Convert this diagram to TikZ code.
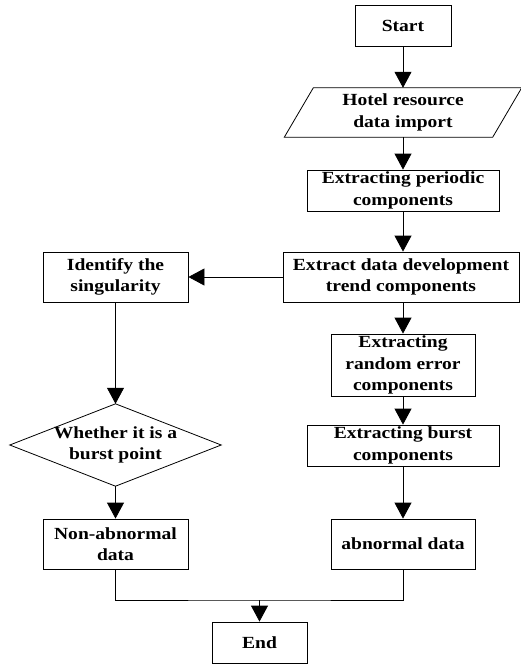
\documentclass[tikz,border=0pt]{standalone}
\usepackage{fontspec}
\setmainfont[FakeStretch=1.15]{Liberation Serif}
\usetikzlibrary{arrows.meta,calc}
\begin{document}
\begin{tikzpicture}[x=1pt,y=-1pt,
  every node/.style={font=\fontsize{17}{21.5}\selectfont\bfseries, align=center, inner sep=0pt},
  box/.style={draw, line width=0.8pt, minimum width=#1},
  arr/.style={line width=0.8pt, -{Triangle[length=16pt,width=17pt]}},
  ln/.style={line width=0.8pt}]
\useasboundingbox (0,0) rectangle (520,664);
\node[box=96, minimum height=41] (start) at (403,26) {Start};
\node[minimum width=208, minimum height=49] (imp) at (403,112.5) {Hotel resource\\data import};
\draw[ln] ($(imp.south west)+(-14.5,0)$) -- ($(imp.south east)+(-14.5,0)$) -- ($(imp.north east)+(14.5,0)$) -- ($(imp.north west)+(14.5,0)$) -- cycle;
\node[box=192, minimum height=41] (per) at (403,190.5) {Extracting periodic\\components};
\node[box=236, minimum height=50] (trend) at (401,277) {Extract data development\\trend components};
\node[box=145, minimum height=50] (ident) at (115.5,277) {Identify the\\singularity};
\node[box=144, minimum height=62] (rand) at (403,365) {Extracting\\random error\\components};
\node[box=192, minimum height=41] (burst) at (403,445.5) {Extracting burst\\components};
\node[minimum width=211, minimum height=82] (dia) at (115.5,445) {Whether it is a\\burst point};
\draw[ln] (dia.north) -- (dia.east) -- (dia.south) -- (dia.west) -- cycle;
\node[box=145, minimum height=50] (nonab) at (115.5,544) {Non-abnormal\\data};
\node[box=144, minimum height=50] (ab) at (403,544) {abnormal data};
\node[box=95, minimum height=41] (end) at (259.5,642.5) {End};
\coordinate (j) at (259.5,600);
\draw[arr] (start) -- (imp);
\draw[arr] (imp) -- (per);
\draw[arr] (per) -- (per.south |- trend.north);
\draw[arr] (trend) -- (ident);
\draw[arr] (trend.south -| rand.north) -- (rand);
\draw[arr] (rand) -- (burst);
\draw[arr] (burst) -- (ab);
\draw[arr] (ident) -- (dia);
\draw[arr] (dia) -- (nonab);
\draw[ln] (nonab.south) |- (j) -| (ab.south);
\draw[arr] (j) -- (end);
\end{tikzpicture}
\end{document}
